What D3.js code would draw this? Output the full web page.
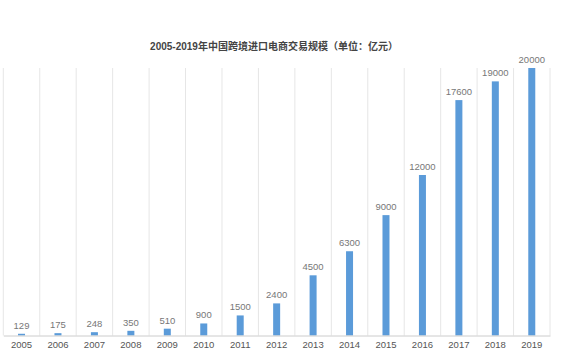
<!DOCTYPE html>
<html><head><meta charset="utf-8">
<script src="https://cdn.jsdelivr.net/npm/d3@7"></script>
<style>body{margin:0;background:#fff;}svg{display:block;}</style>
</head><body>
<svg id="c" width="573" height="354"></svg>
<script>
const years = ["2005","2006","2007","2008","2009","2010","2011","2012","2013","2014","2015","2016","2017","2018","2019"];
const values = [129,175,248,350,510,900,1500,2400,4500,6300,9000,12000,17600,19000,20000];
const title = "2005-2019年中国跨境进口电商交易规模（单位：亿元）";

(function(){
const svg = d3.select("#c");
const mLeft = 3.3, mRight = 550, mTop = 68, mBottom = 335.5;
const x = d3.scaleBand().domain(years).range([mLeft, mRight]).paddingInner(0).paddingOuter(0);
const y = d3.scaleLinear().domain([0, 20000]).range([mBottom, mTop]);
const font = "'Liberation Sans', Arial, 'Noto Sans CJK SC', sans-serif";

const gx = years.map(d => x(d)).concat([mRight]);
svg.append("g").selectAll("line").data(gx).join("line")
  .attr("x1", d => d).attr("x2", d => d)
  .attr("y1", mTop).attr("y2", mBottom)
  .attr("stroke", "#e6e6e6").attr("stroke-width", 1);

const bw = 7;
svg.append("g").selectAll("rect").data(years).join("rect")
  .attr("x", d => x(d) + x.bandwidth()/2 - bw/2)
  .attr("y", (d,i) => y(values[i]))
  .attr("width", bw)
  .attr("height", (d,i) => mBottom - y(values[i]))
  .attr("fill", "#5b9bd9");

svg.append("g").selectAll("text").data(years).join("text")
  .attr("x", d => x(d) + x.bandwidth()/2)
  .attr("y", (d,i) => y(values[i]) - 5)
  .attr("text-anchor", "middle")
  .attr("font-family", font).attr("font-size", 9.5)
  .attr("fill", "#777")
  .text((d,i) => values[i]);

const axis = d3.axisBottom(x).tickSize(0).tickPadding(6);
const ag = svg.append("g").attr("transform", `translate(0,${mBottom})`).call(axis);
ag.select(".domain").attr("stroke", "#cccccc");
ag.selectAll("text").attr("font-family", font).attr("font-size", 9.5).attr("fill", "#555");

svg.append("text")
  .attr("x", 274).attr("y", 50)
  .attr("text-anchor", "middle")
  .attr("font-family", font).attr("font-size", 10).attr("font-weight", "bold")
  .attr("fill", "#444")
  .text(title);
})();
</script>
</body></html>
